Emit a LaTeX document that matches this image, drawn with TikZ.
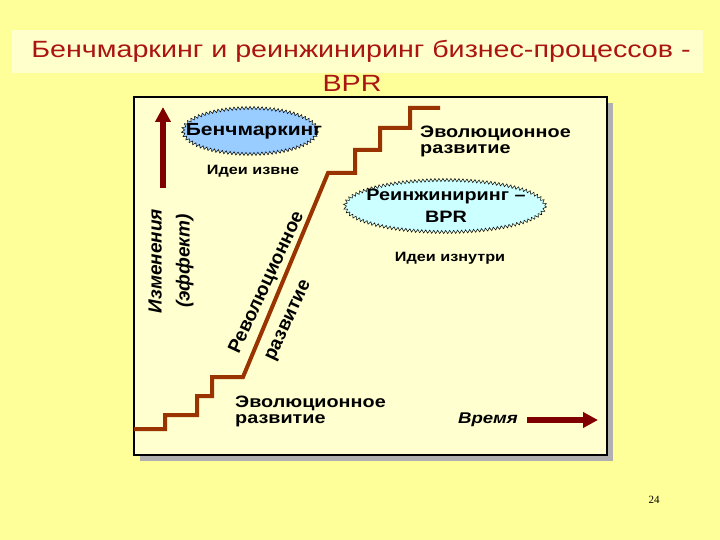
\documentclass[tikz,border=0pt]{standalone}
\usepackage{fontspec}
\setmainfont{Liberation Sans}[FakeStretch=1.2]
\newfontfamily\titlefont{Liberation Sans}[FakeStretch=1.22]
\newfontfamily\plainsans{Liberation Sans}
\newfontfamily\numfont{Liberation Serif}
\usetikzlibrary{decorations.pathmorphing,arrows.meta}
\definecolor{bgyellow}{RGB}{255,255,153}
\definecolor{band}{RGB}{255,255,204}
\definecolor{paper}{RGB}{255,255,208}
\definecolor{titlered}{RGB}{170,20,20}
\definecolor{darkred}{RGB}{128,0,0}
\definecolor{stairbrown}{RGB}{153,51,0}
\definecolor{cloudblue}{RGB}{153,204,255}
\definecolor{cloudcyan}{RGB}{204,255,255}
\definecolor{shadowgray}{RGB}{176,176,176}
\tikzset{
  lbl/.style={inner sep=0pt, font=\bfseries\fontsize{16.5}{16}\selectfont},
  lbltwo/.style={lbl, align=left},
  small/.style={inner sep=0pt, font=\bfseries\fontsize{13.5}{14}\selectfont},
  rot/.style={inner sep=0pt, rotate=65, align=left, font=\plainsans\bfseries\fontsize{19}{35}\selectfont},
  vert/.style={inner sep=0pt, rotate=90, font=\plainsans\bfseries\itshape\fontsize{19}{19}\selectfont},
  stair/.style={draw=stairbrown, line width=4pt, line join=miter},
  bigarrow/.style={draw=darkred, line width=6.5pt, -{Triangle[length=15pt,width=15pt]}},
  cloud/.style={draw=black, line width=0.5pt, decorate, decoration={zigzag, segment length=4pt, amplitude=1.6pt}},
}
\begin{document}
\begin{tikzpicture}[x=1pt,y=-1pt]
\useasboundingbox (0,0) rectangle (720,540);
\fill[bgyellow] (0,0) rectangle (720,540);
\fill[band] (12,30) rectangle (703,73);
\node[inner sep=0pt, text=titlered, font=\titlefont\fontsize{23.5}{24}\selectfont] (title1) at (361,51) {Бенчмаркинг и реинжиниринг бизнес-процессов -};
\node[inner sep=0pt, text=titlered, font=\titlefont\fontsize{23.5}{24}\selectfont] (title2) at (352,83) {BPR};
% frame
\fill[shadowgray] (140,103) rectangle (613,461);
\draw[fill=paper, line width=1.3pt] (134,97) rectangle (607,455);
% staircase
\coordinate (s0) at (134,429);
\coordinate (s9) at (440,108);
\draw[stair] (s0) -- (165,429) -- (165,415) -- (197,415) -- (197,396) -- (212,396) -- (212,377) -- (243,377)
  -- (328,173) -- (355,173) -- (355,150) -- (380,150) -- (380,128) -- (410,128) -- (410,108) -- (s9);
% clouds
\fill[cloud, fill=cloudblue] (250,131) ellipse [x radius=67, y radius=23];
\node[lbl, font=\bfseries\fontsize{17.5}{18}\selectfont] (bench) at (254,131) {Бенчмаркинг};
\node[small] (ext) at (253,171) {Идеи извне};
\fill[cloud, fill=cloudcyan] (445,206) ellipse [x radius=100, y radius=26];
\node[lbl, align=center, font=\bfseries\fontsize{16.5}{22}\selectfont] (reeng) at (446,206) {Реинжиниринг –\\BPR};
\node[small] (int) at (450,258) {Идеи изнутри};
% evolution labels
\node[lbltwo, anchor=west] (evotop) at (420,141) {Эволюционное\\развитие};
\node[lbltwo, anchor=west] (evobot) at (235,411) {Эволюционное\\развитие};
% revolution label
\node[rot] (rev) at (283,290) {Революционное\\\hspace*{8pt}развитие};
% axis label
\node[vert, align=center, font=\plainsans\bfseries\itshape\fontsize{19}{28}\selectfont] (yl) at (171,261) {Изменения\\(эффект)};
% arrows
\coordinate (ya) at (163,188);
\coordinate (yb) at (163,107);
\draw[bigarrow] (ya) -- (yb);
\node[inner sep=0pt, font=\bfseries\itshape\fontsize{15.5}{16}\selectfont] (time) at (488,420) {Время};
\coordinate (ta) at (527,420);
\coordinate (tb) at (598,420);
\draw[bigarrow] (ta) -- (tb);
\node[inner sep=0pt, font=\numfont\fontsize{11}{12}\selectfont] (pg) at (654,500) {24};
\end{tikzpicture}
\end{document}
